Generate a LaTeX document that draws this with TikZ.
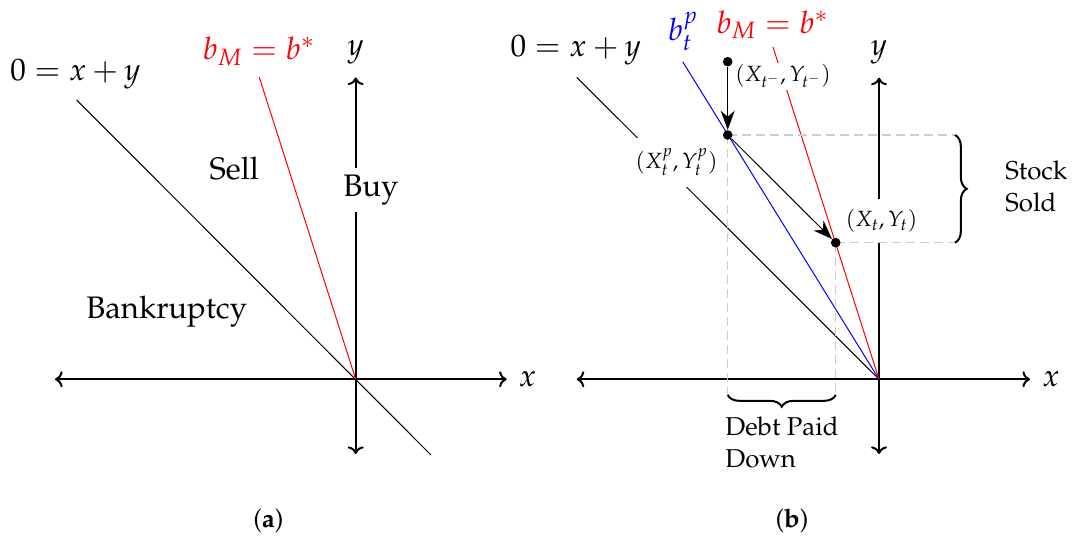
\documentclass[tikz,border=0pt]{standalone}
\usepackage[T1]{fontenc}
\usepackage{mathpazo}
\usetikzlibrary{arrows.meta,decorations.pathreplacing}
\definecolor{dashgray}{RGB}{205,205,205}
\newcommand\fbig{\fontsize{15.55}{18.7}\selectfont}
\newcommand\fmed{\fontsize{12.9}{15.7}\selectfont}
\newcommand\fsml{\fontsize{11}{13.2}\selectfont}
\begin{document}
\begin{tikzpicture}[x=0.5pt,y=-0.5pt,
  axis/.style={line width=1pt,<->},
  thinline/.style={line width=0.5pt},
  bigtext/.style={font=\fbig,inner sep=0pt,anchor=base},
  medtext/.style={font=\fmed,inner sep=0pt,align=left},
  ptlabel/.style={font=\fsml,fill=white,inner sep=5.5pt},
  dot/.style={circle,fill=black,inner sep=0pt,minimum size=4.8pt},
  mvarrow/.style={line width=0.5pt,-{Stealth[length=9.5pt,width=7pt,inset=3pt]}},
  helper/.style={dashgray,line width=0.65pt,dash pattern=on 4.5pt off 2.5pt},
  brace/.style={line width=1pt,decorate,decoration={brace,amplitude=5.85pt}}
]
\useasboundingbox (0,0) rectangle (1074,539);

% ---------------- panel (a) ----------------
\coordinate (Oa) at (355.7,379.3);
\coordinate (axLa) at (55,379.3);
\coordinate (axRa) at (506.7,379.3);
\coordinate (ayTa) at (355.7,77.5);
\coordinate (ayBa) at (355.7,454);
\coordinate (blTa) at (76.7,100);
\coordinate (blBa) at (431,455);
\coordinate (rdTa) at (259.3,77.3);

\draw[axis] (axLa) -- (axRa);
\draw[axis] (ayBa) -- (ayTa);
\draw[thinline] (blTa) -- (blBa);
\draw[thinline,red] (rdTa) -- (Oa);

\node[bigtext] (eqa) at (75.5,81) {$0 = x + y$};
\node[bigtext,text=red] (bma) at (258.8,60) {$b_M = b^*$};
\node[bigtext] (ya) at (355.7,55.5) {$y$};
\node[bigtext] (xa) at (527.5,386.7) {$x$};
\node[bigtext] (sell) at (234.3,179.3) {Sell};
\node[font=\fbig,fill=white,anchor=base] (buy) at (371,196.7) {Buy};
\node[bigtext] (bank) at (166.7,318.3) {Bankruptcy};
\node[font=\fmed,inner sep=0pt,anchor=base] (capa) at (268.3,527) {(\textbf{a})};

% ---------------- panel (b) ----------------
\coordinate (Ob) at (879,379.3);
\coordinate (axLb) at (576.7,379.3);
\coordinate (axRb) at (1030,379.3);
\coordinate (ayTb) at (879,77.7);
\coordinate (ayBb) at (879,454);
\coordinate (blTb) at (576.7,77.3);
\coordinate (buTb) at (682.7,61.7);
\coordinate (rdTb) at (773,47);

\draw[axis] (axLb) -- (axRb);
\draw[axis] (ayBb) -- (ayTb);
\draw[thinline] (blTb) -- (Ob);
\draw[thinline,blue] (buTb) -- (Ob);
\draw[thinline,red] (rdTb) -- (Ob);

\node[bigtext] (eqb) at (575.8,56.7) {$0 = x + y$};
\node[bigtext,text=blue] (bpb) at (683,40.7) {$b_t^p$};
\node[bigtext,text=red] (bmb) at (772.5,33.3) {$b_M = b^*$};
\node[bigtext] (yb) at (879,56) {$y$};
\node[bigtext] (xb) at (1051,386.7) {$x$};
\node[font=\fmed,inner sep=0pt,anchor=base] (capb) at (792,527) {(\textbf{b})};

\node[font=\fsml,fill=white,inner sep=1pt,anchor=base] (lpre) at (783,82) {$(X_{t^-},Y_{t^-})$};
\node[ptlabel] (lpay) at (676.5,162.3) {$(X^p_t,Y^p_t)$};
\node[ptlabel] (lnow) at (881.5,221) {$(X_t,Y_t)$};

\coordinate (d1) at (727.7,61.7);
\coordinate (d2) at (727.7,135);
\coordinate (d3) at (835.7,242.7);
\coordinate (hr2) at (955,135);
\coordinate (hr3) at (955,242.7);
\coordinate (vb2) at (727.7,395);
\coordinate (vb3) at (835.7,395);

\draw[helper] (d2) -- (hr2);
\draw[helper] (d3) -- (hr3);
\draw[helper] (d2) -- (vb2);
\draw[helper] (d3) -- (vb3);

\draw[brace] (hr2) -- (hr3);
\draw[brace] (vb3) -- (vb2);

\node[medtext,anchor=west] (stock) at (1005,186.3) {Stock\\Sold};
\node[medtext,anchor=west] (debt) at (725,442.5) {Debt Paid\\Down};

\node[dot] (p1) at (d1) {};
\node[dot] (p2) at (d2) {};
\node[dot] (p3) at (d3) {};

\draw[mvarrow] (p1) -- (p2);
\draw[mvarrow] (p2) -- (p3);
\end{tikzpicture}
\end{document}
